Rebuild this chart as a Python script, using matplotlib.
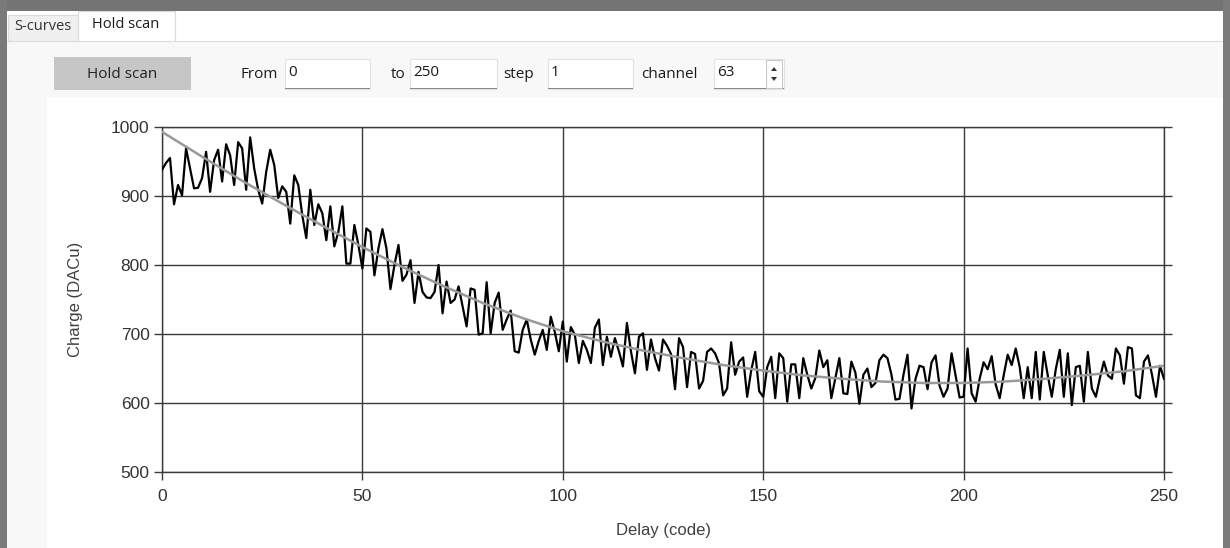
import numpy as np
import matplotlib
matplotlib.use("Agg")
import matplotlib.pyplot as plt
from matplotlib.patches import Rectangle, Polygon

W, H = 1230, 548

# hold scan settings shown in the toolbar
scan_from, scan_to, scan_step, channel = 0, 250, 1, 63

delay = np.arange(scan_from, scan_to + 1, scan_step)
charge = [
    938, 948, 955, 888, 916, 901, 969, 940, 911, 912,
    926, 964, 906, 952, 967, 921, 975, 959, 916, 978,
    969, 909, 985, 940, 909, 889, 935, 967, 945, 897,
    914, 906, 860, 930, 916, 872, 839, 909, 858, 888,
    875, 836, 885, 827, 848, 885, 802, 802, 858, 829,
    795, 853, 848, 785, 824, 852, 824, 765, 800, 829,
    777, 786, 807, 745, 790, 761, 753, 752, 761, 800,
    730, 776, 745, 750, 769, 740, 711, 766, 764, 699,
    701, 775, 701, 745, 760, 706, 721, 734, 675, 673,
    706, 721, 692, 670, 690, 706, 677, 725, 703, 675,
    718, 660, 710, 699, 658, 690, 677, 658, 709, 721,
    655, 696, 667, 694, 675, 653, 716, 675, 643, 696,
    701, 648, 692, 665, 647, 692, 683, 671, 620, 694,
    681, 623, 674, 671, 621, 632, 674, 679, 672, 657,
    611, 621, 688, 641, 660, 666, 609, 647, 674, 617,
    609, 652, 667, 607, 672, 665, 602, 656, 656, 607,
    665, 641, 621, 636, 676, 652, 662, 607, 636, 665,
    614, 613, 660, 644, 599, 641, 650, 623, 629, 662,
    670, 665, 641, 605, 606, 641, 670, 592, 635, 654,
    652, 620, 659, 669, 625, 609, 621, 672, 640, 608,
    609, 679, 614, 602, 635, 659, 649, 668, 627, 607,
    640, 670, 655, 679, 652, 607, 652, 607, 674, 605,
    674, 640, 609, 649, 677, 609, 672, 597, 652, 654,
    602, 674, 621, 609, 636, 660, 640, 635, 679, 669,
    628, 681, 679, 611, 607, 660, 669, 641, 609, 654,
    635,
]

# smooth fit curve, read every 10 codes
fit_delay = [0, 10, 20, 30, 40, 50, 60, 70, 80, 90, 100, 110, 120,
             130, 140, 150, 160, 170, 180, 190, 200, 210, 220, 230, 240, 250]
fit_charge = [993, 957, 922, 889, 857, 826, 797, 770, 745, 723, 704, 689, 676,
              665, 655, 647, 640, 635, 631, 629, 629, 631, 635, 640, 646, 654]

x_ticks = [0, 50, 100, 150, 200, 250]
y_ticks = [500, 600, 700, 800, 900, 1000]

gui_font = ["Open Sans", "DejaVu Sans"]
chart_font = ["Liberation Sans", "DejaVu Sans"]

fig = plt.figure(figsize=(W / 100, H / 100), dpi=100)
fig.patch.set_facecolor("#f8f8f8")


def box(x, y, w, h, **kw):
    # pixel rectangle in screen coords (top-left origin)
    r = Rectangle((x / W, 1 - (y + h) / H), w / W, h / H,
                  transform=fig.transFigure, zorder=0, **kw)
    fig.add_artist(r)
    return r


def label(x, y, s, **kw):
    kw.setdefault("fontsize", 10)
    kw.setdefault("color", "#1a1a1a")
    kw.setdefault("family", gui_font)
    kw.setdefault("va", "center")
    fig.text(x / W, 1 - y / H, s, **kw)


# outer desktop frame
box(0, 0, W, 11, facecolor="#747474", edgecolor="none")
box(0, 0, 7, H, facecolor="#7a7a7a", edgecolor="none")
box(1223, 0, 7, H, facecolor="#7a7a7a", edgecolor="none")

# tab header
box(7, 11, 1216, 30, facecolor="#ffffff", edgecolor="none")
box(8, 15, 70, 26, facecolor="#f0f0f0", edgecolor="#d9d9d9", lw=0.8)
box(78, 11, 97, 30, facecolor="#ffffff", edgecolor="#d9d9d9", lw=0.8)
label(43, 27, "S-curves", ha="center", color="#333333", fontsize=10.5)
label(126, 24, "Hold scan", ha="center", fontsize=10.5)
box(7, 41, 1216, 0.8, facecolor="#dcdcdc", edgecolor="none")

# toolbar
box(54, 57, 137, 33, facecolor="#c6c6c6", edgecolor="none")
label(122, 74, "Hold scan", ha="center", fontsize=11, color="#222222")

fields = [(240, "From", 285, 85, str(scan_from)),
          (391, "to", 410, 87, str(scan_to)),
          (503, "step", 548, 85, str(scan_step)),
          (641, "channel", 714, 70, str(channel))]
for lx, lab, bx, bw, val in fields:
    label(lx, 74, lab, fontsize=11)
    box(bx, 59, bw, 30, facecolor="#ffffff", edgecolor="#e2e2e2", lw=0.8)
    box(bx, 88, bw, 1.2, facecolor="#8a8a8a", edgecolor="none")
    label(bx + 3, 72, val, fontsize=11)

# spin arrows
box(766, 60, 16, 28, facecolor="#ffffff", edgecolor="#c8c8c8", lw=0.8)
for cy, d in [(69, -1), (79, 1)]:
    pts = [((774 - 3) / W, 1 - (cy - 2 * d) / H),
           ((774 + 3) / W, 1 - (cy - 2 * d) / H),
           (774 / W, 1 - (cy + 2 * d) / H)]
    fig.add_artist(Polygon(pts, closed=True, transform=fig.transFigure,
                           facecolor="#333333", edgecolor="none"))

# white chart panel
box(47, 98, 1176, 450, facecolor="#ffffff", edgecolor="none")

ax = fig.add_axes([162 / W, 1 - 472 / H, (1164 - 162) / W, (472 - 127) / H])
ax.set_zorder(5)
ax.set_facecolor("none")
ax.plot(delay, charge, color="#000000", lw=1.6, zorder=3)
ax.plot(fit_delay, fit_charge, color="#999999", lw=1.8, zorder=4)

ax.set_xlim(0, 250)
ax.set_ylim(500, 1000)
ax.set_xticks(x_ticks)
ax.set_yticks(y_ticks)
ax.grid(True, color="#3a3a3a", lw=1.0)
for s in ax.spines.values():
    s.set_color("#3a3a3a")
    s.set_linewidth(1.0)
ax.tick_params(axis="both", length=6, width=1.0, color="#3a3a3a",
               labelsize=12.5, labelcolor="#333333")
ax.tick_params(axis="x", pad=6)
ax.tick_params(axis="y", right=True, pad=3)
for t in ax.get_xticklabels() + ax.get_yticklabels():
    t.set_family(chart_font)

ax.set_xlabel("Delay (code)", fontsize=12, color="#404040",
              family=chart_font, labelpad=14)
ax.set_ylabel("Charge (DACu)", fontsize=12, color="#404040",
              family=chart_font, labelpad=20)

fig.savefig("out.png", dpi=100, facecolor=fig.get_facecolor())
